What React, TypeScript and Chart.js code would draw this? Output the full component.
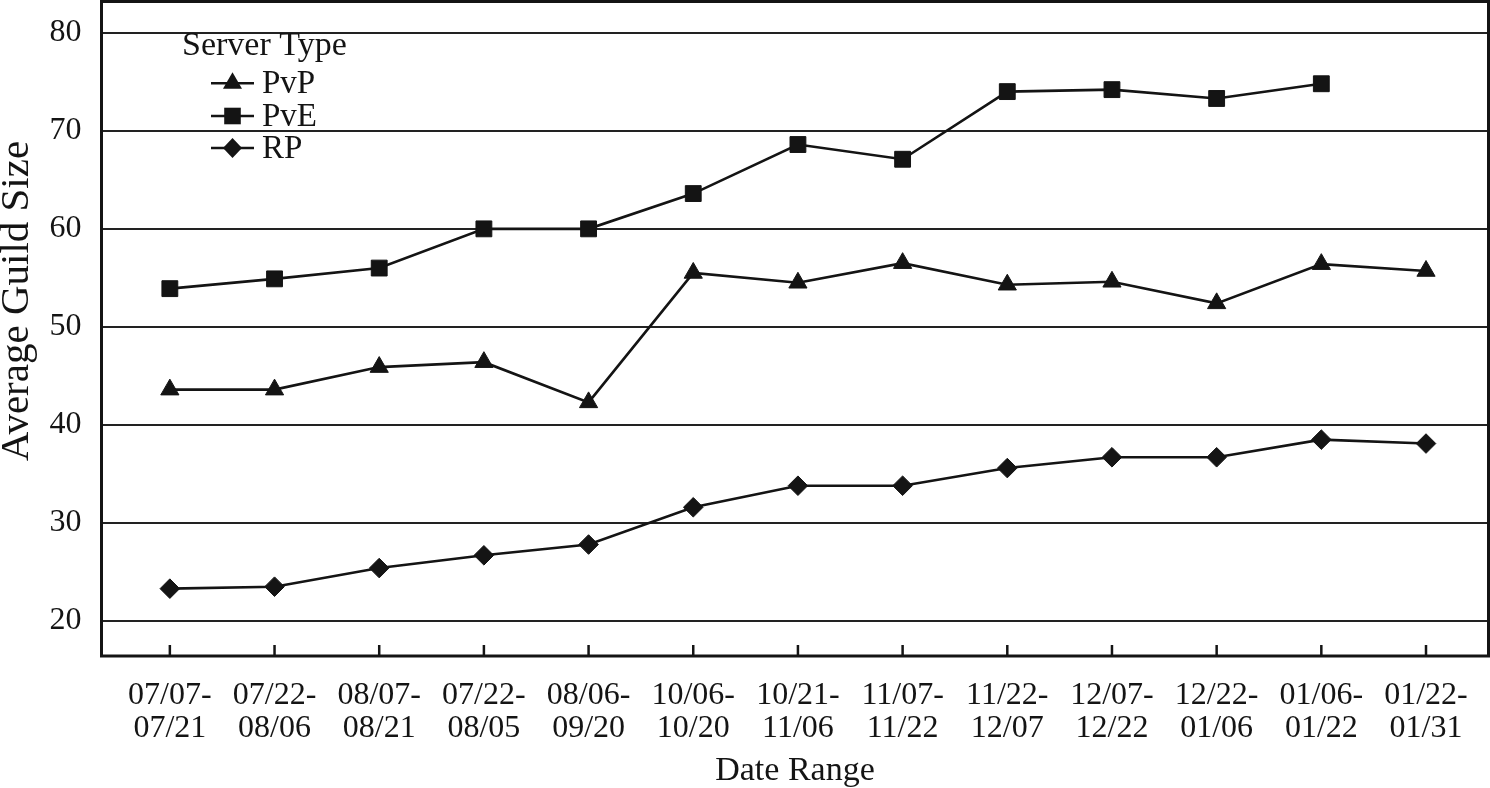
import React, { useEffect, useRef } from 'react';
import { Chart, registerables } from 'chart.js';

Chart.register(...registerables);

const rangeStarts = ['07/07-', '07/22-', '08/07-', '07/22-', '08/06-', '10/06-', '10/21-', '11/07-', '11/22-', '12/07-', '12/22-', '01/06-', '01/22-'];
const rangeEnds = ['07/21', '08/06', '08/21', '08/05', '09/20', '10/20', '11/06', '11/22', '12/07', '12/22', '01/06', '01/22', '01/31'];

const pvpValues = [43.6, 43.6, 45.9, 46.4, 42.3, 55.5, 54.5, 56.5, 54.3, 54.6, 52.4, 56.4, 55.7];
const pveValues = [53.9, 54.9, 56.0, 60.0, 60.0, 63.6, 68.6, 67.1, 74.0, 74.2, 73.3, 74.8, null];
const rpValues = [23.3, 23.5, 25.4, 26.7, 27.8, 31.6, 33.8, 33.8, 35.6, 36.7, 36.7, 38.5, 38.1];

const seriesNames = ['PvP', 'PvE', 'RP'];
const yTickValues = [20, 30, 40, 50, 60, 70, 80];

const legendTitle = 'Server Type';
const xTitle = 'Date Range';
const yTitle = 'Average Guild Size';

const FONT = '"Liberation Serif", "Times New Roman", serif';
const INK = '#141414';

function drawMarker(ctx: CanvasRenderingContext2D, style: string, x: number, y: number) {
  ctx.beginPath();
  if (style === 'triangle') {
    const r = 11;
    ctx.moveTo(x, y - r);
    ctx.lineTo(x + r * 0.866, y + r * 0.5);
    ctx.lineTo(x - r * 0.866, y + r * 0.5);
  } else if (style === 'rect') {
    const s = 8.3;
    ctx.rect(x - s, y - s, 2 * s, 2 * s);
  } else {
    const r = 10;
    ctx.moveTo(x - r * 0.95, y);
    ctx.lineTo(x, y - r);
    ctx.lineTo(x + r * 0.95, y);
    ctx.lineTo(x, y + r);
  }
  ctx.closePath();
  ctx.fill();
}

const zeroPadding = (scale: any) => {
  scale.paddingTop = 0;
  scale.paddingBottom = 0;
  scale.paddingLeft = 0;
  scale.paddingRight = 0;
};

const framePlugin = {
  id: 'frameAndLegend',
  afterDraw(chart: any) {
    const { ctx, chartArea } = chart;
    const xs = chart.scales.x;
    ctx.save();
    // inner x ticks
    ctx.strokeStyle = INK;
    ctx.lineWidth = 2.5;
    rangeStarts.forEach((_, i) => {
      const px = xs.getPixelForValue(i);
      ctx.beginPath();
      ctx.moveTo(px, chartArea.bottom);
      ctx.lineTo(px, chartArea.bottom - 11);
      ctx.stroke();
    });
    // frame
    ctx.lineWidth = 3;
    ctx.strokeRect(chartArea.left, chartArea.top, chartArea.right - chartArea.left, chartArea.bottom - chartArea.top);

    // y-axis title
    ctx.fillStyle = INK;
    ctx.save();
    ctx.translate(28, 301);
    ctx.rotate(-Math.PI / 2);
    ctx.font = `41px ${FONT}`;
    ctx.textAlign = 'center';
    ctx.textBaseline = 'alphabetic';
    ctx.fillText(yTitle, 0, 0);
    ctx.restore();

    // legend
    const styles = ['triangle', 'rect', 'rectRot'];
    ctx.textBaseline = 'alphabetic';
    ctx.textAlign = 'left';
    ctx.font = `34px ${FONT}`;
    ctx.fillText(legendTitle, 182, 55);
    ctx.font = `33px ${FONT}`;
    const rows = [83.3, 116, 148];
    seriesNames.forEach((name, i) => {
      const y = rows[i];
      ctx.lineWidth = 2.5;
      ctx.beginPath();
      ctx.moveTo(211, y);
      ctx.lineTo(254, y);
      ctx.stroke();
      drawMarker(ctx, styles[i], 232.5, y);
      ctx.fillText(name, 262, y + 10);
    });
    ctx.restore();
  },
};

export default function App() {
  const canvasRef = useRef<HTMLCanvasElement>(null);

  useEffect(() => {
    document.body.style.margin = '0';
    const canvas = canvasRef.current;
    if (!canvas) return;
    const toPoints = (arr: (number | null)[]) => arr.map((v, i) => ({ x: i, y: v }));
    const common = {
      borderColor: INK,
      borderWidth: 2.6,
      pointBackgroundColor: INK,
      pointBorderColor: INK,
      pointBorderWidth: 1,
      tension: 0,
      fill: false,
    };
    const chart = new Chart(canvas, {
      type: 'line',
      data: {
        datasets: [
          { ...common, label: seriesNames[0], data: toPoints(pvpValues), pointStyle: 'triangle', pointRadius: 10.5 },
          { ...common, label: seriesNames[1], data: toPoints(pveValues), pointStyle: 'rect', pointRadius: 11.2 },
          { ...common, label: seriesNames[2], data: toPoints(rpValues), pointStyle: 'rectRot', pointRadius: 9.8 },
        ] as any,
      },
      options: {
        responsive: false,
        animation: false,
        layout: { autoPadding: false, padding: { top: 1.5, right: 1.5, left: 0, bottom: 0 } },
        plugins: {
          legend: { display: false },
          tooltip: { enabled: false },
          title: { display: false },
        },
        scales: {
          x: {
            type: 'linear',
            min: -0.653,
            max: 12.597,
            afterBuildTicks: (scale: any) => {
              scale.ticks = rangeStarts.map((_, i) => ({ value: i }));
            },
            afterFit: (scale: any) => {
              scale.height = 132;
              zeroPadding(scale);
            },
            grid: { display: false, drawTicks: false },
            border: { display: false },
            ticks: {
              autoSkip: false,
              maxRotation: 0,
              minRotation: 0,
              padding: 23,
              color: INK,
              font: { family: FONT, size: 32, lineHeight: 1.03 },
              callback: (v: any) => [rangeStarts[v], rangeEnds[v]],
            },
            title: {
              display: true,
              text: xTitle,
              color: INK,
              font: { family: FONT, size: 34, lineHeight: 1 },
              padding: { top: 0, bottom: 0 },
            },
          },
          y: {
            type: 'linear',
            min: 16.43,
            max: 83.19,
            afterBuildTicks: (scale: any) => {
              scale.ticks = yTickValues.map((v) => ({ value: v }));
            },
            afterFit: (scale: any) => {
              scale.width = 101.5;
              zeroPadding(scale);
            },
            grid: { display: true, color: '#222', lineWidth: 2, drawTicks: false },
            border: { display: false },
            ticks: {
              padding: 20,
              color: INK,
              font: { family: FONT, size: 32 },
            },
            title: { display: false },
          },
        },
      } as any,
      plugins: [framePlugin],
    });
    return () => chart.destroy();
  }, []);

  return (
    <div style={{ width: 1490, height: 788 }}>
      <canvas ref={canvasRef} width={1490} height={788} style={{ display: 'block' }} />
    </div>
  );
}
